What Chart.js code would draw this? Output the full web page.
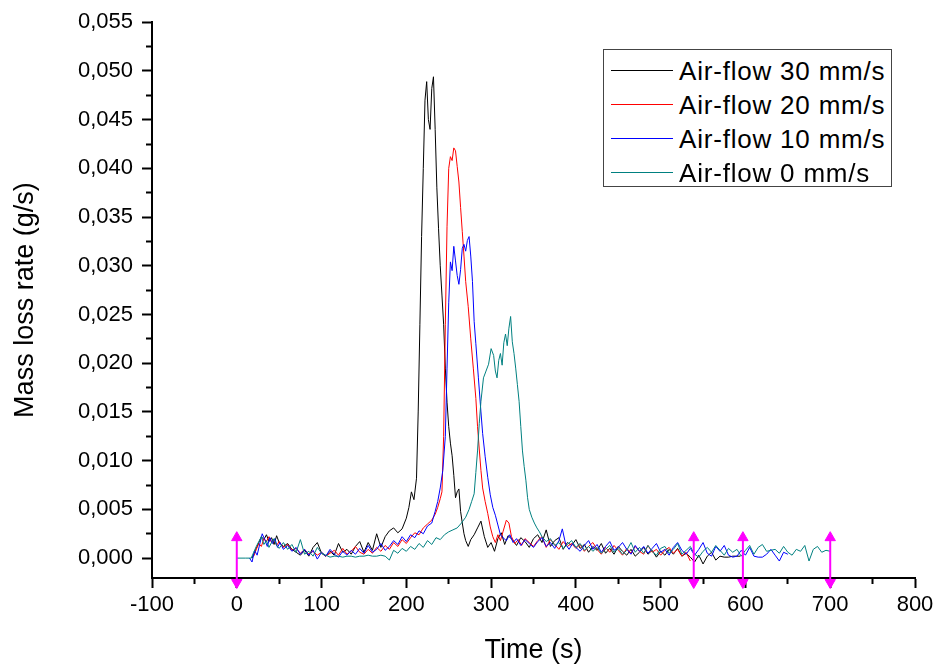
<!DOCTYPE html>
<html lang="en">
<head>
<meta charset="UTF-8">
<title>Mass loss rate</title>
<script src="https://cdnjs.cloudflare.com/ajax/libs/Chart.js/4.4.1/chart.umd.min.js"></script>
<style>
  body { margin: 0; background: #fff; }
  #wrap { position: relative; width: 939px; height: 668px; font-family: "Liberation Sans", Arial, sans-serif; }
  #chart { position: absolute; left: 0; top: 0; }
  #legend { position: absolute; left: 603px; top: 49px; width: 289px; height: 138px; box-sizing: border-box; border: 1.5px solid #444; background: #fff; }
  .row { position: absolute; left: 0; width: 100%; height: 34px; }
  .swatch { position: absolute; left: 7px; top: 16px; width: 62px; height: 0; border-top: 1px solid #000; }
  .lbl { position: absolute; left: 75px; top: 0; line-height: 34px; font-size: 26px; letter-spacing: 0.8px; color: #000; white-space: nowrap; }
</style>
</head>
<body>
<div id="wrap">
  <canvas id="chart" width="939" height="668"></canvas>
  <div id="legend"></div>
</div>
<script>
// series names and colours (legend order)
const seriesNames = ["Air-flow 30 mm/s", "Air-flow 20 mm/s", "Air-flow 10 mm/s", "Air-flow 0 mm/s"];
const seriesColors = ["#000000", "#ff0000", "#0000ff", "#008080"];

// Air-flow 30 mm/s
const t30 = [18,20,23,26,29,32,35,38,41,44,
  47,50,55,60,65,70,75,80,85,90,
  95,100,105,110,115,120,125,130,135,140,
  145,150,155,160,165,170,175,180,185,190,
  195,200,203,206,209,212,214,216,218,220,
  222,224,226,228,230,232,234,236,238,240,
  242,244,246,248,250,252,254,256,258,260,
  262,264,266,268,270,273,276,280,284,288,
  292,296,300,304,308,312,316,320,325,330,
  335,340,345,350,355,360,365,370,375,380,
  385,390,395,400,405,410,415,420,425,430,
  435,440,445,450,455,460,465,470,475,480,
  485,490,495,500,505,510,515,520,525,530,
  535,540,545,550,555,560,565,570,575,580,
  585,590,594];
const v30 = [0.0000,0.0004,0.0010,0.0016,0.0022,0.0019,0.0024,0.0017,0.0021,0.0014,
  0.0023,0.0016,0.0012,0.0015,0.0009,0.0006,0.0003,0.0008,0.0002,0.0011,
  0.0016,0.0005,0.0002,0.0007,0.0003,0.0015,0.0006,0.0009,0.0004,0.0012,
  0.0017,0.0006,0.0016,0.0008,0.0025,0.0011,0.0022,0.0028,0.0031,0.0026,
  0.0030,0.0041,0.0052,0.0068,0.0060,0.0082,0.0150,0.0240,0.0330,0.0400,
  0.0470,0.0489,0.0450,0.0440,0.0482,0.0494,0.0440,0.0380,0.0338,0.0300,
  0.0270,0.0240,0.0195,0.0160,0.0135,0.0118,0.0105,0.0085,0.0062,0.0068,
  0.0071,0.0048,0.0036,0.0025,0.0018,0.0012,0.0019,0.0024,0.0031,0.0038,
  0.0022,0.0011,0.0016,0.0007,0.0020,0.0026,0.0014,0.0023,0.0019,0.0013,
  0.0021,0.0017,0.0011,0.0020,0.0024,0.0016,0.0029,0.0012,0.0018,0.0021,
  0.0009,0.0016,0.0013,0.0019,0.0010,0.0014,0.0006,0.0012,0.0008,0.0015,
  0.0005,0.0010,0.0004,0.0012,0.0007,0.0003,0.0009,0.0002,0.0006,0.0011,
  0.0004,0.0008,0.0001,0.0007,0.0003,0.0009,0.0004,0.0010,0.0002,0.0005,
  0.0001,-0.0004,0.0003,-0.0006,0.0002,0.0006,-0.0002,0.0002,0.0001,0.0001,
  0.0002,0.0002,0.0002];

// Air-flow 20 mm/s
const t20 = [20,23,26,29,32,35,38,41,44,47,
  50,55,60,65,70,75,80,85,90,95,
  100,105,110,115,120,125,130,135,140,145,
  150,155,160,165,170,175,180,185,190,195,
  200,205,210,215,220,225,230,234,237,240,
  242,244,246,248,250,252,254,256,258,260,
  262,264,266,268,270,273,276,279,282,284,
  286,288,290,293,296,299,302,305,308,311,
  314,318,321,324,328,332,336,340,345,350,
  355,360,365,370,375,380,385,390,395,400,
  405,410,415,420,425,430,435,440,445,450,
  455,460,465,470,475,480,485,490,495,500,
  505,510,515,520,525,530,535];
const v20 = [0.0002,0.0009,0.0015,0.0012,0.0020,0.0017,0.0022,0.0016,0.0019,0.0013,
  0.0017,0.0011,0.0014,0.0008,0.0010,0.0005,0.0009,0.0004,0.0007,0.0003,
  0.0006,0.0002,0.0005,0.0008,0.0003,0.0010,0.0004,0.0007,0.0012,0.0006,
  0.0004,0.0009,0.0005,0.0011,0.0007,0.0013,0.0009,0.0016,0.0012,0.0019,
  0.0015,0.0021,0.0026,0.0024,0.0031,0.0035,0.0039,0.0045,0.0052,0.0061,
  0.0068,0.0125,0.0240,0.0340,0.0400,0.0412,0.0408,0.0421,0.0418,0.0402,
  0.0386,0.0360,0.0335,0.0310,0.0284,0.0258,0.0225,0.0195,0.0164,0.0135,
  0.0112,0.0090,0.0072,0.0058,0.0046,0.0032,0.0022,0.0016,0.0024,0.0018,
  0.0027,0.0039,0.0036,0.0022,0.0015,0.0019,0.0013,0.0020,0.0016,0.0012,
  0.0018,0.0022,0.0011,0.0019,0.0014,0.0009,0.0017,0.0012,0.0015,0.0010,
  0.0014,0.0007,0.0012,0.0016,0.0009,0.0004,0.0011,0.0006,0.0013,0.0008,
  0.0003,0.0010,0.0005,0.0012,0.0007,0.0004,0.0013,0.0006,0.0009,0.0003,
  0.0008,0.0011,0.0005,0.0009,0.0002,0.0006,-0.0003];

// Air-flow 10 mm/s
const t10 = [15,18,21,24,27,30,33,36,39,42,
  45,48,51,55,60,65,70,75,80,85,
  90,95,100,105,110,115,120,125,130,135,
  140,145,150,155,160,165,170,175,180,185,
  190,195,200,205,210,215,220,225,230,234,
  237,240,243,246,248,250,252,254,256,258,
  260,262,264,266,268,270,272,274,276,278,
  280,282,285,288,290,293,296,299,302,305,
  308,311,314,318,322,326,330,335,340,345,
  350,355,360,365,370,375,380,384,388,392,
  396,400,405,410,415,420,425,430,435,440,
  445,450,455,460,465,470,475,480,485,490,
  495,500,505,510,515,520,525,530,535,540,
  545,550,555,560,565,570,575,580,585,590,
  595,600,605,610,615,620,625,630,635,640,
  645,650];
const v10 = [0.0000,-0.0004,0.0008,0.0003,0.0014,0.0025,0.0019,0.0012,0.0021,0.0015,
  0.0020,0.0011,0.0016,0.0009,0.0013,0.0007,0.0011,0.0004,0.0009,0.0003,
  0.0008,-0.0001,0.0006,0.0002,0.0009,0.0004,0.0001,0.0007,0.0003,0.0008,
  0.0004,0.0010,0.0005,0.0013,0.0006,0.0009,0.0015,0.0008,0.0012,0.0018,
  0.0014,0.0022,0.0017,0.0024,0.0021,0.0028,0.0025,0.0033,0.0036,0.0048,
  0.0058,0.0072,0.0090,0.0125,0.0195,0.0262,0.0304,0.0295,0.0320,0.0305,
  0.0290,0.0281,0.0296,0.0318,0.0322,0.0315,0.0326,0.0330,0.0310,0.0284,
  0.0243,0.0220,0.0185,0.0150,0.0128,0.0104,0.0083,0.0065,0.0052,0.0044,
  0.0034,0.0024,0.0021,0.0018,0.0024,0.0016,0.0020,0.0013,0.0019,0.0015,
  0.0011,0.0017,0.0021,0.0012,0.0016,0.0010,0.0018,0.0030,0.0014,0.0009,
  0.0015,0.0011,0.0007,0.0013,0.0018,0.0009,0.0014,0.0006,0.0012,0.0017,
  0.0008,0.0011,0.0016,0.0009,0.0004,0.0013,0.0007,0.0012,0.0005,0.0010,
  0.0015,0.0006,0.0009,0.0003,0.0011,0.0016,0.0008,0.0004,0.0010,0.0003,
  0.0009,0.0016,0.0005,0.0002,0.0012,0.0007,0.0013,0.0003,0.0001,0.0002,
  0.0008,0.0003,0.0011,0.0002,0.0001,0.0001,0.0004,0.0009,0.0003,-0.0003,
  0.0006,0.0004];

// Air-flow 0 mm/s
const t0 = [0,10,17,20,23,26,29,32,35,38,
  41,44,47,50,55,60,65,70,75,80,
  85,90,95,100,105,110,115,120,125,130,
  135,140,145,150,155,160,165,170,175,180,
  185,190,195,200,205,210,215,220,225,230,
  235,240,245,250,255,260,265,270,274,277,
  280,282,284,286,288,291,294,297,300,303,
  305,307,309,311,313,315,317,319,321,323,
  325,327,329,331,333,335,337,339,341,343,
  345,348,351,354,357,360,365,370,375,380,
  385,390,395,400,405,410,415,420,425,430,
  435,440,445,450,455,460,465,470,475,480,
  485,490,495,500,505,510,515,520,525,530,
  535,540,545,550,555,560,565,570,575,580,
  585,590,595,600,605,610,615,620,625,630,
  635,640,645,650,655,660,665,670,675,680,
  685,690,695,700];
const v0 = [0.0000,0.0000,0.0000,0.0006,0.0012,0.0017,0.0022,0.0014,0.0018,0.0011,
  0.0016,0.0020,0.0013,0.0010,0.0016,0.0009,0.0014,0.0006,0.0019,0.0004,
  0.0007,0.0002,0.0011,0.0005,0.0003,0.0001,0.0002,0.0002,0.0001,0.0002,
  0.0002,0.0001,0.0002,0.0002,0.0003,0.0002,0.0002,0.0003,0.0002,-0.0002,
  0.0008,0.0005,0.0010,0.0007,0.0012,0.0009,0.0015,0.0011,0.0018,0.0014,
  0.0021,0.0019,0.0024,0.0027,0.0029,0.0031,0.0036,0.0042,0.0050,0.0058,
  0.0066,0.0088,0.0110,0.0138,0.0161,0.0185,0.0192,0.0199,0.0215,0.0208,
  0.0192,0.0185,0.0203,0.0210,0.0198,0.0221,0.0230,0.0218,0.0236,0.0248,
  0.0222,0.0210,0.0195,0.0178,0.0161,0.0135,0.0110,0.0094,0.0080,0.0062,
  0.0050,0.0042,0.0036,0.0031,0.0027,0.0022,0.0017,0.0020,0.0013,0.0016,
  0.0010,0.0014,0.0018,0.0011,0.0015,0.0008,0.0012,0.0007,0.0011,0.0005,
  0.0009,0.0013,0.0006,0.0010,0.0004,0.0008,0.0016,0.0006,0.0011,0.0005,
  0.0013,0.0007,0.0003,0.0010,0.0012,0.0005,0.0009,0.0015,0.0004,0.0008,
  0.0012,0.0004,0.0001,0.0007,0.0011,0.0006,0.0013,0.0008,0.0003,0.0010,
  0.0006,0.0009,0.0002,0.0008,0.0013,0.0004,0.0011,0.0014,0.0007,0.0008,
  0.0009,0.0005,0.0012,0.0006,0.0003,0.0009,0.0007,0.0013,-0.0003,0.0009,
  0.0012,0.0006,0.0008,0.0007];

// magenta markers
const arrowTimes = [0, 539, 597, 700];
const arrowTop = 0.0021;
const arrowBottom = -0.0025;

// axis ticks
const xTicks = [-100,-50,0,50,100,150,200,250,300,350,400,450,500,550,600,650,700,750,800];
const yTicks = [0,0.0025,0.005,0.0075,0.01,0.0125,0.015,0.0175,0.02,0.0225,0.025,0.0275,
  0.03,0.0325,0.035,0.0375,0.04,0.0425,0.045,0.0475,0.05,0.0525,0.055];

function pts(ts, vs) {
  return ts.map((t, i) => ({x: t, y: vs[i]}));
}

function isMajorY(v) {
  return Math.round(v / 0.0025) % 2 === 0;
}
function isMajorX(v) {
  return Math.round(v) % 100 === 0;
}

// legend
const legend = document.getElementById('legend');
seriesNames.forEach((name, i) => {
  const row = document.createElement('div');
  row.className = 'row';
  row.style.top = (3.5 + i * 34) + 'px';
  const sw = document.createElement('span');
  sw.className = 'swatch';
  sw.style.borderTopColor = seriesColors[i];
  const lb = document.createElement('span');
  lb.className = 'lbl';
  lb.textContent = name;
  row.appendChild(sw);
  row.appendChild(lb);
  legend.appendChild(row);
});

const series = [[t30, v30], [t20, v20], [t10, v10], [t0, v0]];
const datasets = series.map((s, i) => ({
  label: seriesNames[i],
  data: pts(s[0], s[1]),
  borderColor: seriesColors[i],
  borderWidth: 1,
  pointRadius: 0,
  tension: 0,
  fill: false,
  order: 4 - i
}));

arrowTimes.forEach(t => {
  datasets.push({
    label: 'marker',
    data: [{x: t, y: arrowTop}, {x: t, y: arrowBottom}],
    borderColor: '#ff00ff',
    backgroundColor: '#ff00ff',
    borderWidth: 2,
    pointStyle: 'triangle',
    pointRadius: 6,
    pointBorderWidth: 1,
    pointRotation: [0, 180],
    clip: false,
    order: 0
  });
});

Chart.defaults.font.family = '"Liberation Sans", Arial, sans-serif';
Chart.defaults.color = '#000';

new Chart(document.getElementById('chart').getContext('2d'), {
  type: 'line',
  data: {datasets: datasets},
  options: {
    responsive: false,
    animation: false,
    devicePixelRatio: 1,
    layout: {padding: {left: 0, right: 24, top: 20, bottom: 0}},
    plugins: {legend: {display: false}, tooltip: {enabled: false}},
    scales: {
      x: {
        type: 'linear',
        min: -100,
        max: 800,
        afterBuildTicks: s => { s.ticks = xTicks.map(v => ({value: v})); },
        afterFit: s => { s.height = 90; },
        ticks: {
          autoSkip: false,
          maxRotation: 0,
          padding: 4,
          font: {size: 22},
          callback: v => isMajorX(v) ? String(v) : ''
        },
        grid: {
          drawOnChartArea: false,
          tickLength: 10,
          tickWidth: 2,
          tickColor: '#000',
          tickBorderDash: c => (c.tick && !isMajorX(c.tick.value)) ? [5, 100] : []
        },
        border: {color: '#000', width: 2},
        title: {display: true, text: 'Time (s)', font: {size: 27}, padding: {top: 0, bottom: 1}}
      },
      y: {
        type: 'linear',
        min: -0.00204,
        max: 0.055,
        afterBuildTicks: s => { s.ticks = yTicks.map(v => ({value: v})); },
        afterFit: s => { s.width = 152; },
        ticks: {
          autoSkip: false,
          padding: 9,
          font: {size: 22},
          callback: v => isMajorY(v) ? v.toFixed(3).replace('.', ',') : ''
        },
        grid: {
          drawOnChartArea: false,
          tickLength: 10,
          tickWidth: 2,
          tickColor: '#000',
          tickBorderDash: c => (c.tick && !isMajorY(c.tick.value)) ? [0, 4, 5, 100] : []
        },
        border: {color: '#000', width: 2},
        title: {display: true, text: 'Mass loss rate (g/s)', font: {size: 27}, padding: {top: 9, bottom: 0}}
      }
    }
  }
});
</script>
</body>
</html>
